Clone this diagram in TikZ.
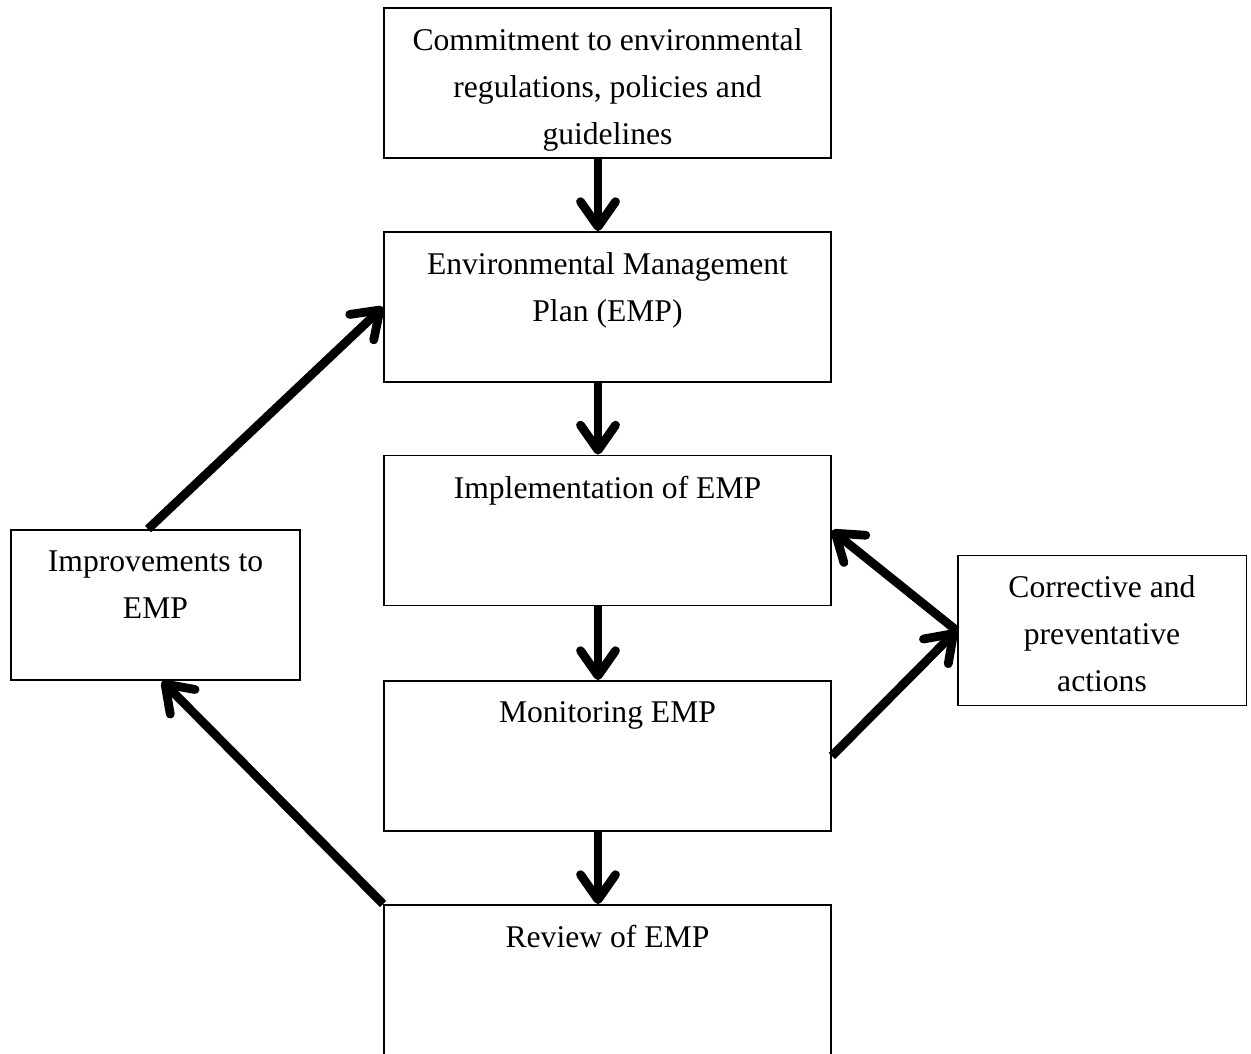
\documentclass[tikz,border=0pt]{standalone}
\usepackage{fontspec}
\setmainfont{Liberation Serif}
\usetikzlibrary{positioning,arrows.meta}

\begin{document}
\begin{tikzpicture}[
        x=0.02cm, y=-0.02cm,
        box/.style={rectangle, draw, line width=1.1pt, minimum width=8.94cm, minimum height=3cm, inner sep=0pt},
        sideBox/.style={rectangle, draw, line width=1.1pt, minimum width=5.78cm, minimum height=3cm, inner sep=0pt},
        txt/.style={align=center, inner sep=0pt, font=\fontsize{18}{26.7}\selectfont},
        arr/.style={line width=5pt, -{Straight Barb[length=0.5cm, width=0.7cm, round]}}
    ]
        \useasboundingbox (0,0) rectangle (1251,1054);

        % Main column
        \node[box] (commit) at (607.5,83) {};
        \node[box] (emp) at (607.5,307) {};
        \node[box] (impl) at (607.5,530.5) {};
        \node[box] (mon) at (607.5,756) {};
        \node[box] (rev) at (607.5,980) {};

        % Side boxes
        \node[sideBox] (impr) at (155.5,605) {};
        \node[sideBox] (corr) at (1102,630.5) {};

        % Texts
        \node[txt, below=0.42cm of commit.north] (commitT) {Commitment to environmental\\ regulations, policies and\\ guidelines};
        \node[txt, below=0.42cm of emp.north] (empT) {Environmental Management\\ Plan (EMP)};
        \node[txt, below=0.42cm of impl.north] (implT) {Implementation of EMP};
        \node[txt, below=0.42cm of mon.north] (monT) {Monitoring EMP};
        \node[txt, below=0.42cm of rev.north] (revT) {Review of EMP};
        \node[txt, below=0.42cm of impr.north] (imprT) {Improvements to\\ EMP};
        \node[txt, below=0.42cm of corr.north] (corrT) {Corrective and\\ preventative\\ actions};

        % Arrows down the column
        \draw[arr] ([xshift=-0.19cm]commit.south) -- ([xshift=-0.19cm]emp.north);
        \draw[arr] ([xshift=-0.19cm]emp.south) -- ([xshift=-0.19cm]impl.north);
        \draw[arr] ([xshift=-0.19cm]impl.south) -- ([xshift=-0.19cm]mon.north);
        \draw[arr] ([xshift=-0.19cm]mon.south) -- ([xshift=-0.19cm]rev.north);

        % Feedback loops
        \draw[arr] (rev.north west) -- ([xshift=0.13cm]impr.south);
        \draw[arr] ([xshift=-0.15cm]impr.north) -- (emp.west);
        \draw[arr] (mon.east) -- (corr.west);
        \draw[arr] (corr.west) -- (impl.east);
    \end{tikzpicture}
\end{document}
